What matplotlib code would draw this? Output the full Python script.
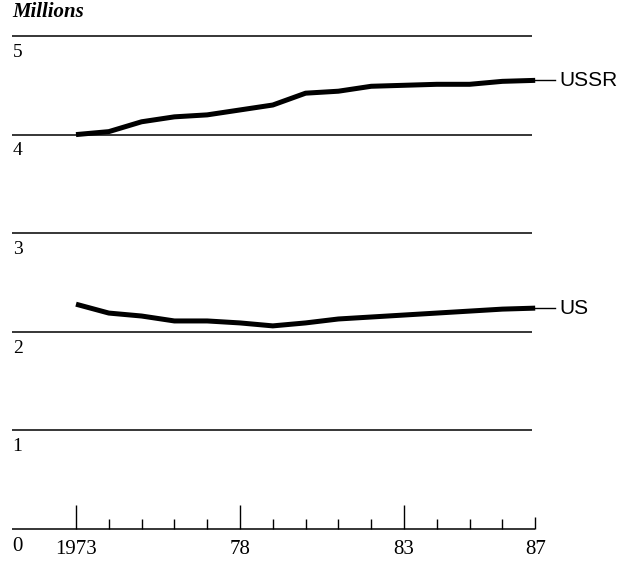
import matplotlib
matplotlib.use("Agg")
import matplotlib.pyplot as plt

years = list(range(1973, 1988))
ussr = [4.00, 4.03, 4.13, 4.18, 4.20, 4.25, 4.30, 4.42, 4.44, 4.49, 4.50, 4.51, 4.51, 4.54, 4.55]
us = [2.28, 2.19, 2.16, 2.11, 2.11, 2.09, 2.06, 2.09, 2.13, 2.15, 2.17, 2.19, 2.21, 2.23, 2.24]
grid_values = [1, 2, 3, 4, 5]
tick_labels = {1973: "1973", 1978: "78", 1983: "83", 1987: "87"}

fig = plt.figure(figsize=(6.23, 5.61), dpi=100)
ax = fig.add_axes([0, 0, 1, 1])
ax.set_xlim(1970.683, 1989.677)
ax.set_ylim(-0.3245, 5.365)
ax.axis("off")

serif = "Liberation Serif"
sans = "Liberation Sans"

# horizontal rules
x0, x1 = 1971.05, 1986.9
ax.hlines(grid_values, x0, x1, color="black", lw=1.1)
ax.hlines(0, x0, 1987, color="black", lw=1.1)
for v in grid_values:
    ax.text(x0 + 0.02, v - 0.08, str(v), fontsize=14, family=serif, va="top", ha="left")
ax.text(x0 + 0.02, -0.08, "0", fontsize=15, family=serif, va="top", ha="left")

# ticks along baseline
for yr in years:
    if yr in (1973, 1978, 1983):
        h = 0.24
    elif yr == 1987:
        h = 0.12
    else:
        h = 0.10
    ax.vlines(yr, 0, h, color="black", lw=1.0)
for yr, lab in tick_labels.items():
    ax.text(yr, -0.11, lab, fontsize=15, family=serif, va="top", ha="center")

# series
ax.plot(years, ussr, color="black", lw=3.6, solid_capstyle="butt")
ax.plot(years, us, color="black", lw=3.6, solid_capstyle="butt")
for vals, name in [(ussr, "USSR"), (us, "US")]:
    ax.plot([years[-1], 1987.6], [vals[-1], vals[-1]], color="black", lw=1.0)
    ax.text(1987.75, vals[-1], name, fontsize=15, family=sans, va="center", ha="left")

ax.text(x0, 5.34, "Millions", fontsize=15, family=serif, style="italic",
        weight="bold", va="top", ha="left")

fig.savefig("out.png", dpi=100)
